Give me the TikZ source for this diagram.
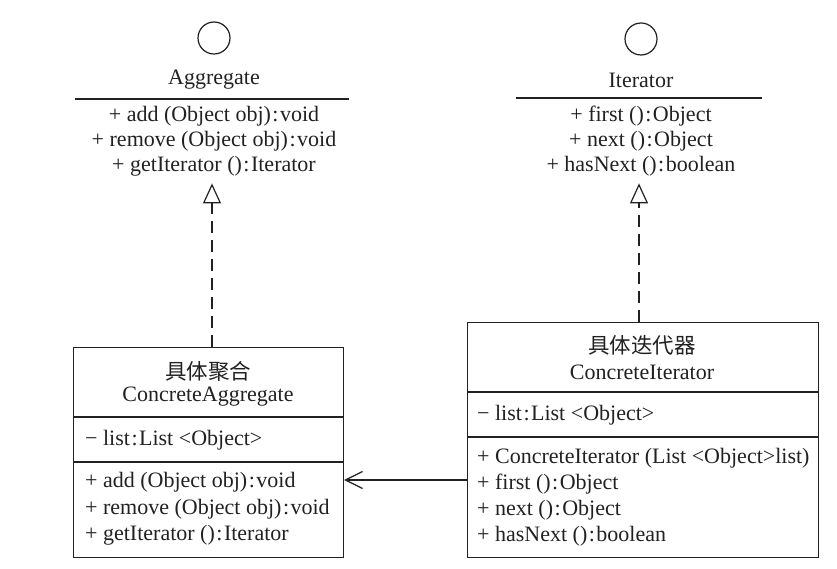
\documentclass[tikz,border=0pt]{standalone}
\usepackage{fontspec}
\setmainfont{Liberation Serif}
\newfontfamily\cjk{Noto Sans CJK SC}
\usetikzlibrary{arrows.meta}
\definecolor{ink}{gray}{0.13}
\tikzset{
 txt/.style={inner sep=0pt, text=ink, font=\fontsize{22}{26}\selectfont},
 ltxt/.style={txt, anchor=west},
 cjktxt/.style={inner sep=0pt, text=ink, font=\fontsize{21.5}{26}\selectfont\cjk},
 classbox/.style={draw=ink, line width=1.2pt, inner sep=0pt, anchor=north west},
 iface/.style={circle, draw=ink, line width=1.2pt, minimum size=32pt, inner sep=0pt},
 realize/.style={draw=ink, line width=1.2pt, dash pattern=on 12pt off 7pt, -{Triangle[open, length=20pt, width=18pt, line width=1.2pt]}},
 assoc/.style={draw=ink, line width=1.2pt, -{Straight Barb[length=17pt, width=17pt, line width=1.2pt]}},
 sep/.style={draw=ink, line width=1.2pt}
}
\newcommand{\cln}{\kern1.5pt:\kern1.5pt}
\begin{document}
\begin{tikzpicture}[x=1pt,y=-1pt]
\useasboundingbox (0,0) rectangle (837,569);
% ---------- Aggregate interface
\node[iface] (aggc) at (214,38) {};
\node[txt] (aggn) at (214,80) {Aggregate};
\node[inner sep=0pt, minimum width=273pt, minimum height=84pt, anchor=north] (aggm) at (212,99) {};
\draw[sep] (aggm.north west) -- (aggm.north east);
\node[txt] (aggm1) at (214,116) {+ add (Object obj)\cln void};
\node[txt] (aggm2) at (214,141) {+ remove (Object obj)\cln void};
\node[txt] (aggm3) at (214,166) {+ getIterator ()\cln Iterator};
% ---------- Iterator interface
\node[iface] (itc) at (641,39) {};
\node[txt] (itn) at (641,80) {Iterator};
\node[inner sep=0pt, minimum width=245pt, minimum height=85pt, anchor=north] (itm) at (639,98) {};
\draw[sep] (itm.north west) -- (itm.north east);
\node[txt] (itm1) at (641,116) {+ first ()\cln Object};
\node[txt] (itm2) at (641,141) {+ next ()\cln Object};
\node[txt] (itm3) at (641,166) {+ hasNext ()\cln boolean};
% ---------- ConcreteAggregate
\node[classbox, minimum width=270pt, minimum height=210pt] (cagg) at (73,347) {};
\coordinate (ca1) at (0,417);
\coordinate (ca2) at (0,462);
\draw[sep] (cagg.west |- ca1) -- (cagg.east |- ca1);
\draw[sep] (cagg.west |- ca2) -- (cagg.east |- ca2);
\node[cjktxt] (caggz) at (208,371) {具体聚合};
\node[txt] (caggn) at (208,397) {ConcreteAggregate};
\node[ltxt] (cagga) at (85,440) {− list\cln List <Object>};
\node[ltxt] (caggm1) at (85,482) {+ add (Object obj)\cln void};
\node[ltxt] (caggm2) at (85,509) {+ remove (Object obj)\cln void};
\node[ltxt] (caggm3) at (85,535) {+ getIterator ()\cln Iterator};
% ---------- ConcreteIterator
\node[classbox, minimum width=351pt, minimum height=235pt] (citer) at (467,322) {};
\coordinate (ci1) at (0,392);
\coordinate (ci2) at (0,437);
\draw[sep] (citer.west |- ci1) -- (citer.east |- ci1);
\draw[sep] (citer.west |- ci2) -- (citer.east |- ci2);
\node[cjktxt] (citerz) at (642,345) {具体迭代器};
\node[txt] (citern) at (642,372) {ConcreteIterator};
\node[ltxt] (citera) at (477,415) {− list\cln List <Object>};
\node[ltxt] (citerm1) at (477,458) {+ ConcreteIterator (List <Object>list)};
\node[ltxt] (citerm2) at (477,484) {+ first ()\cln Object};
\node[ltxt] (citerm3) at (477,510) {+ next ()\cln Object};
\node[ltxt] (citerm4) at (477,536) {+ hasNext ()\cln boolean};
% ---------- connectors
\draw[realize] (aggm.south |- cagg.north) -- (aggm.south);
\draw[realize] (itm.south |- citer.north) -- (itm.south);
\coordinate (ay) at (0,480);
\draw[assoc] (citer.west |- ay) -- (cagg.east |- ay);
\end{tikzpicture}
\end{document}
